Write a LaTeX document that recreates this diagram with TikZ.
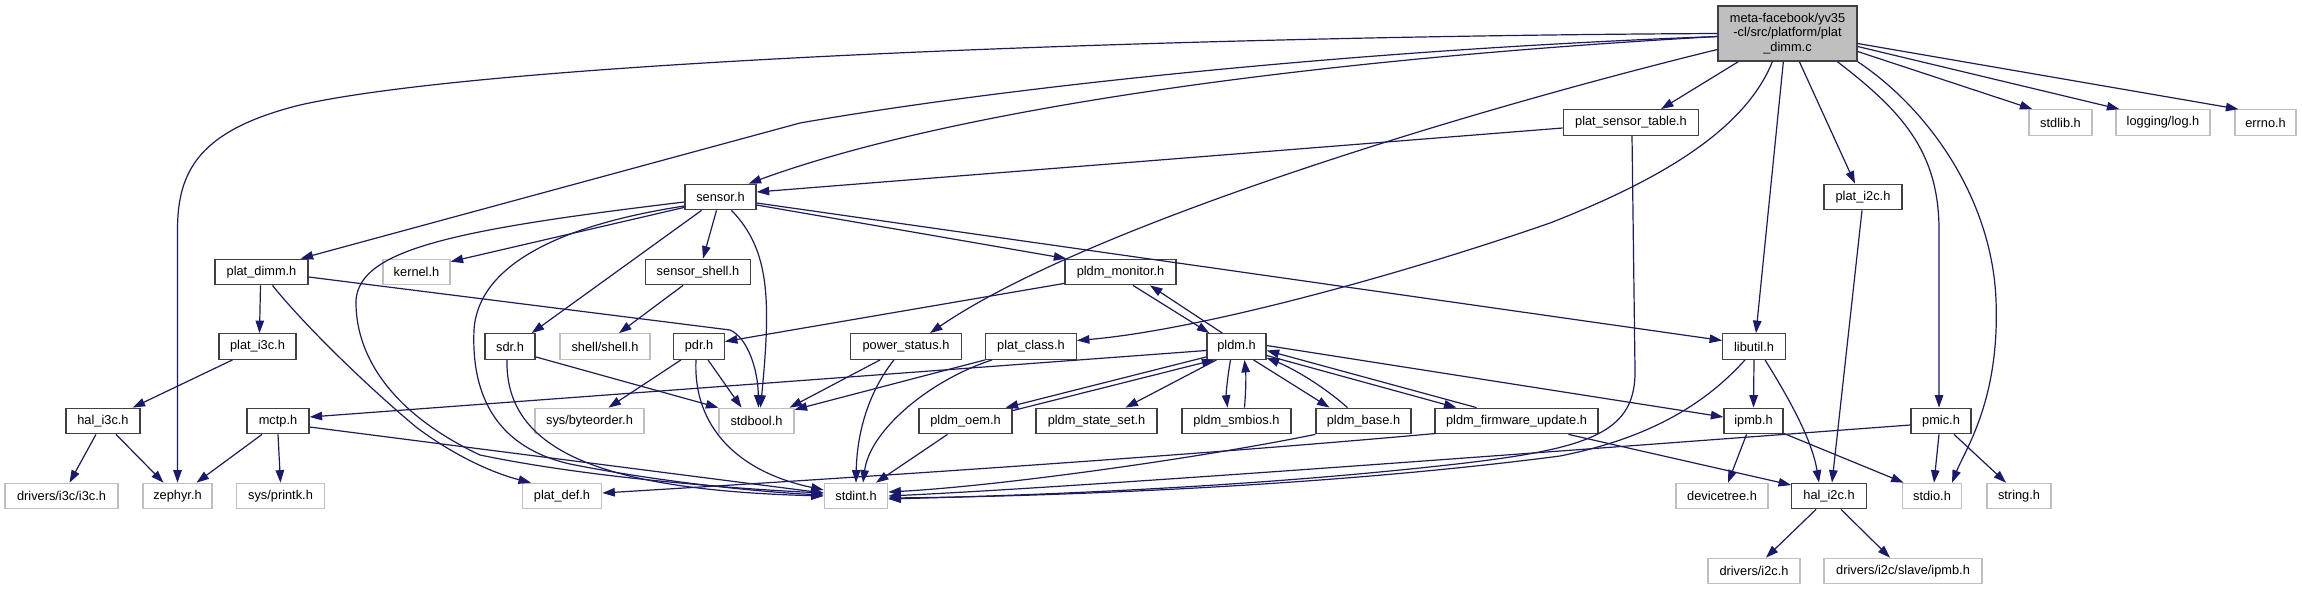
\documentclass[tikz,border=0pt]{standalone}
\usepackage{fontspec}
\setmainfont{Liberation Sans}
\usetikzlibrary{arrows.meta}
\definecolor{edgeblue}{HTML}{191970}
\definecolor{docborder}{HTML}{404040}
\definecolor{extborder}{HTML}{BFBFBF}
\definecolor{rootfill}{HTML}{BFBFBF}
\begin{document}
\begin{tikzpicture}[x=1pt,y=-1pt,
  basenode/.style={rectangle, inner sep=0pt, minimum height=25.5pt, font=\fontsize{12.8pt}{14.5pt}\selectfont, fill=white},
  docnode/.style={basenode, draw=docborder, line width=1.3pt},
  extnode/.style={basenode, draw=extborder, line width=1.2pt},
  rootnode/.style={basenode, draw=docborder, line width=1.3pt, fill=rootfill, align=center, minimum height=55pt},
  dep/.style={draw=edgeblue, line width=1.2pt, -{Triangle[length=12.5pt,width=8.5pt]}}]
\useasboundingbox (0,0) rectangle (2302,589);
\fill[white] (0,0) rectangle (2302,589);
% nodes
\node[rootnode, minimum width=139pt] (root) at (1787.5,33.5) {meta-facebook/yv35\\-cl/src/platform/plat\\\_dimm.c};
\node[docnode, minimum width=135.5pt] (pst) at (1631,122.5) {plat\_sensor\_table.h};
\node[extnode, minimum width=63pt] (stdlib) at (2060.5,122.5) {stdlib.h};
\node[extnode, minimum width=94pt] (logh) at (2163,122.5) {logging/log.h};
\node[extnode, minimum width=61pt] (errno) at (2265.5,122.5) {errno.h};
\node[docnode, minimum width=71pt] (sensor) at (720.5,197) {sensor.h};
\node[docnode, minimum width=78pt] (pi2c) at (1863,197) {plat\_i2c.h};
\node[docnode, minimum width=93pt] (pdimm) at (261.5,272) {plat\_dimm.h};
\node[extnode, minimum width=67pt] (kernel) at (416.5,272) {kernel.h};
\node[docnode, minimum width=105.5pt] (sshell) at (698,272) {sensor\_shell.h};
\node[docnode, minimum width=111pt] (pmon) at (1120.5,272) {pldm\_monitor.h};
\node[docnode, minimum width=77pt] (pi3c) at (257.5,346.5) {plat\_i3c.h};
\node[docnode, minimum width=50pt] (sdr) at (510,346.5) {sdr.h};
\node[extnode, minimum width=90pt] (shell) at (605,346.5) {shell/shell.h};
\node[docnode, minimum width=50.5pt] (pdr) at (699,346.5) {pdr.h};
\node[docnode, minimum width=110.5pt] (pstat) at (906,346.5) {power\_status.h};
\node[docnode, minimum width=90.5pt] (pclass) at (1031,346.5) {plat\_class.h};
\node[docnode, minimum width=59pt] (pldm) at (1236.5,346.5) {pldm.h};
\node[docnode, minimum width=62.5pt] (libutil) at (1754,346.5) {libutil.h};
\node[docnode, minimum width=74pt] (hi3c) at (103,421) {hal\_i3c.h};
\node[docnode, minimum width=62pt] (mctp) at (278,421) {mctp.h};
\node[extnode, minimum width=109pt] (byteorder) at (589.5,421) {sys/byteorder.h};
\node[extnode, minimum width=75pt] (stdbool) at (756.5,421) {stdbool.h};
\node[docnode, minimum width=93pt] (poem) at (965.5,421) {pldm\_oem.h};
\node[docnode, minimum width=121pt] (pstate) at (1096.5,421) {pldm\_state\_set.h};
\node[docnode, minimum width=109pt] (psmbios) at (1236.5,421) {pldm\_smbios.h};
\node[docnode, minimum width=95pt] (pbase) at (1363.5,421) {pldm\_base.h};
\node[docnode, minimum width=163pt] (pfw) at (1516.5,421) {pldm\_firmware\_update.h};
\node[docnode, minimum width=59pt] (ipmb) at (1753.5,421) {ipmb.h};
\node[docnode, minimum width=60pt] (pmic) at (1941,421) {pmic.h};
\node[extnode, minimum width=113pt] (di3c) at (61.5,496) {drivers/i3c/i3c.h};
\node[extnode, minimum width=69pt] (zephyr) at (177.5,496) {zephyr.h};
\node[extnode, minimum width=87.5pt] (printk) at (280.5,496) {sys/printk.h};
\node[extnode, minimum width=79.5pt] (pdef) at (562,496) {plat\_def.h};
\node[extnode, minimum width=63.5pt] (stdint) at (856,496) {stdint.h};
\node[extnode, minimum width=92pt] (dtree) at (1722,496) {devicetree.h};
\node[docnode, minimum width=74.5pt] (hi2c) at (1829,496) {hal\_i2c.h};
\node[extnode, minimum width=59.5pt] (stdio) at (1932,496) {stdio.h};
\node[extnode, minimum width=64pt] (string) at (2019,496) {string.h};
\node[extnode, minimum width=92pt] (di2c) at (1754,571) {drivers/i2c.h};
\node[extnode, minimum width=158pt] (dipmb) at (1903,571) {drivers/i2c/slave/ipmb.h};
% root edges
\draw[dep] (root.west) .. controls (1200,36) and (500,60) .. (300,105) .. controls (200,130) and (177.5,170) .. (177.5,230) -- (zephyr.north);
\draw[dep] ([yshift=-3pt]root.west) .. controls (1350,50) and (1000,88) .. (800,123) -- ([xshift=-8pt]pdimm.north east);
\draw[dep] ([yshift=-3pt]root.west) .. controls (1300,60) and (950,110) .. ([xshift=-8pt]sensor.north east);
\draw[dep] ([xshift=21pt]root.south west) -- ([xshift=30pt]pst.north);
\draw[dep] ([yshift=-16pt]root.west) .. controls (1450,115) and (1080,230) .. ([xshift=24pt]pstat.north);
\draw[dep] ([xshift=55pt]root.south west) .. controls (1745,130) and (1660,180) .. (1550,223) .. controls (1400,275) and (1200,330) .. ([yshift=6pt]pclass.east);
\draw[dep] ([xshift=66pt]root.south west) -- ([xshift=2pt]libutil.north);
\draw[dep] ([xshift=82pt]root.south west) -- ([xshift=-8pt]pi2c.north);
\draw[dep] ([xshift=120pt]root.south west) .. controls (1900,110) and (1939,150) .. (1939,230) -- ([xshift=-2pt]pmic.north);
\draw[dep] (root.south east) .. controls (1930,110) and (1992,200) .. (1996,300) .. controls (2000,400) and (1965,450) .. ([xshift=20pt]stdio.north);
\draw[dep] ([yshift=-18pt]root.east) -- ([xshift=4pt]stdlib.north west);
\draw[dep] ([yshift=-13pt]root.east) -- ([xshift=4pt]logh.north west);
\draw[dep] ([yshift=-10pt]root.east) -- ([xshift=4pt]errno.north west);
% plat_sensor_table
\draw[dep] ([yshift=-5.5pt]pst.west) -- ([yshift=5pt]sensor.east);
\draw[dep] ([xshift=1pt]pst.south) -- (1635,370) .. controls (1636,440) and (1580,452) .. (1400,470) .. controls (1200,490) and (1000,496) .. ([yshift=-3pt]stdint.east);
% sensor.h
\draw[dep] ([yshift=3pt]sensor.south west) -- ([yshift=-3pt]kernel.north east);
\draw[dep] ([xshift=-4pt]sensor.south) -- ([xshift=5pt]sshell.north);
\draw[dep] ([xshift=-19pt]sensor.south) -- ([xshift=-4pt]sdr.north east);
\draw[dep] ([xshift=11pt]sensor.south) .. controls (770,250) and (771,300) .. ([xshift=4pt]stdbool.north);
\draw[dep] ([yshift=-8pt]sensor.east) -- ([xshift=2pt]pmon.north west);
\draw[dep] ([yshift=-6pt]sensor.east) -- ([yshift=6pt]libutil.west);
\draw[dep] ([yshift=-5pt]sensor.west) .. controls (450,230) and (360,250) .. (356,300) .. controls (355,350) and (385,410) .. (480,455) .. controls (600,480) and (760,490) .. ([yshift=3pt]stdint.west);
\draw[dep] ([yshift=-9pt]sensor.west) .. controls (560,225) and (478,265) .. (474,330) .. controls (471,400) and (500,448) .. (570,464) .. controls (660,482) and (760,492) .. ([yshift=1pt]stdint.west);
% plat_dimm.h
\draw[dep] ([xshift=-1pt]pdimm.south) -- ([xshift=2pt]pi3c.north);
\draw[dep] ([xshift=11pt]pdimm.south) .. controls (300,320) and (360,380) .. (416,427) .. controls (460,460) and (500,475) .. ([xshift=-31pt]pdef.north);
\draw[dep] ([yshift=-5pt]pdimm.east) -- (730,330) .. controls (748,338) and (758,370) .. ([xshift=2pt]stdbool.north);
% i3c / mctp
\draw[dep] ([xshift=-25pt]pi3c.south) -- ([xshift=-8pt]hi3c.north east);
\draw[dep] ([xshift=-7pt]hi3c.south) -- ([xshift=8pt]di3c.north);
\draw[dep] ([xshift=13pt]hi3c.south) -- ([xshift=-14pt]zephyr.north);
\draw[dep] ([xshift=-16pt]mctp.south) -- ([xshift=19pt]zephyr.north);
\draw[dep] (mctp.south) -- (printk.north);
\draw[dep] ([yshift=-6pt]mctp.east) -- ([yshift=3pt]stdint.west);
% sensor_shell, sdr, pdr
\draw[dep] ([xshift=-15pt]sshell.south) -- ([xshift=14pt]shell.north);
\draw[dep] ([yshift=3pt]sdr.south east) -- (stdbool.north west);
\draw[dep] ([xshift=-3pt]sdr.south) .. controls (505,450) and (600,490) .. (stdint.west);
\draw[dep] ([xshift=-18pt]pdr.south) -- ([xshift=19pt]byteorder.north);
\draw[dep] ([xshift=9pt]pdr.south) -- ([xshift=-15pt]stdbool.north);
\draw[dep] ([xshift=-3pt]pdr.south) .. controls (693,420) and (730,470) .. ([yshift=6pt]stdint.west);
% pldm_monitor
\draw[dep] ([yshift=2pt]pmon.south west) -- ([yshift=5pt]pdr.east);
\draw[dep] ([xshift=12.5pt]pmon.south) -- ([xshift=3pt]pldm.north west);
\draw[dep] ([xshift=16pt]pldm.north west) -- ([xshift=29.5pt]pmon.south);
% power_status, plat_class
\draw[dep] ([xshift=30pt]pstat.south west) -- ([xshift=-5pt]stdbool.north east);
\draw[dep] ([xshift=-12pt]pstat.south) .. controls (870,390) and (857,430) .. (stdint.north);
\draw[dep] (pclass.south west) -- ([yshift=-2pt]stdbool.north east);
\draw[dep] ([xshift=7pt]pclass.south west) .. controls (930,380) and (870,430) .. ([xshift=7pt]stdint.north);
% pldm.h
\draw[dep] ([yshift=-4pt]pldm.west) -- ([yshift=4pt]mctp.east);
\draw[dep] ([yshift=3pt]pldm.south west) -- ([xshift=-7pt]poem.north east);
\draw[dep] ([yshift=-3pt]poem.north east) -- ([xshift=8pt]pldm.south west);
\draw[dep] ([xshift=-20pt]pldm.south) -- ([xshift=29pt]pstate.north);
\draw[dep] ([xshift=-6pt]pldm.south) .. controls (1227,380) and (1226,395) .. ([xshift=-9pt]psmbios.north);
\draw[dep] ([xshift=8pt]psmbios.north) .. controls (1246,390) and (1246,375) .. ([xshift=8pt]pldm.south);
\draw[dep] ([xshift=17pt]pldm.south) -- ([xshift=-34pt]pbase.north);
\draw[dep] ([xshift=-16pt]pbase.north) .. controls (1322,385) and (1292,368) .. ([yshift=2pt]pldm.south east);
\draw[dep] ([yshift=-9pt]pldm.east) -- ([xshift=-60pt]pfw.north);
\draw[dep] ([xshift=-40pt]pfw.north) -- ([yshift=-4pt]pldm.east);
\draw[dep] ([yshift=1pt]pldm.east) -- ([yshift=4pt]ipmb.west);
% pldm children
\draw[dep] ([xshift=-18pt]poem.south) -- ([xshift=20pt]stdint.north);
\draw[dep] (pbase.south west) .. controls (1200,458) and (1000,486) .. ([yshift=4pt]stdint.east);
\draw[dep] ([xshift=2pt,yshift=1pt]pfw.south west) .. controls (1200,455) and (850,478) .. ([yshift=3pt]pdef.east);
\draw[dep] ([xshift=52pt]pfw.south) -- ([yshift=11pt]hi2c.west);
% libutil, ipmb, pmic
\draw[dep] (libutil.south) -- (ipmb.north);
\draw[dep] ([xshift=11pt]libutil.south) .. controls (1790,400) and (1812,440) .. ([xshift=-10pt]hi2c.north);
\draw[dep] ([xshift=-9pt]libutil.south) .. controls (1700,410) and (1640,440) .. (1560,456) .. controls (1300,490) and (1000,497) .. ([yshift=-2pt]stdint.east);
\draw[dep] ([xshift=-7pt]ipmb.south) -- ([xshift=6pt]dtree.north);
\draw[dep] ([yshift=1pt]ipmb.south east) -- ([xshift=2pt]stdio.north west);
\draw[dep] ([xshift=-2pt]pmic.south) -- ([xshift=2pt]stdio.north);
\draw[dep] ([xshift=13pt]pmic.south) -- ([xshift=-13pt]string.north);
\draw[dep] ([yshift=-4pt]pmic.west) .. controls (1600,448) and (1100,486) .. (stdint.east);
% i2c
\draw[dep] ([xshift=-1pt]pi2c.south) -- ([xshift=3pt]hi2c.north);
\draw[dep] ([xshift=-13pt]hi2c.south) -- ([xshift=12pt]di2c.north);
\draw[dep] ([xshift=12pt]hi2c.south) -- ([xshift=-13pt]dipmb.north);
\end{tikzpicture}
\end{document}
